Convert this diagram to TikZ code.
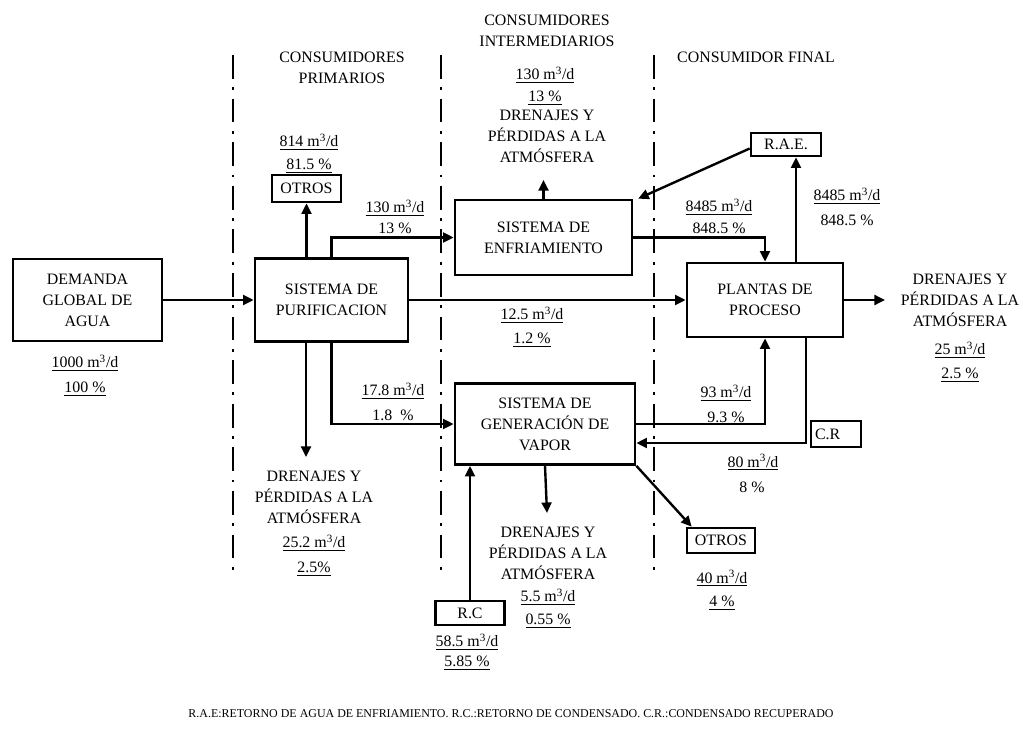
\documentclass[tikz,border=0pt]{standalone}
\usepackage{fontspec}
\setmainfont{Liberation Serif}
\usetikzlibrary{arrows.meta, positioning, calc}
\newcommand{\caudal}[1]{\underline{#1 m\textsuperscript{3}/d}}

\begin{document}
\begin{tikzpicture}[
  x=0.025cm, y=-0.025cm,
  font=\fontsize{11.3}{15}\selectfont,
  box/.style={rectangle, draw, line width=1.9pt, align=center, inner sep=1pt},
  tag/.style={align=center, inner sep=0pt},
  arr/.style={-{Triangle[length=7.5pt,width=7pt]}, line width=1.7pt},
  divline/.style={line width=2pt, dash pattern=on 17pt off 6pt on 2pt off 6pt},
]
  \useasboundingbox (0,0) rectangle (1023,729);

  % zonas
  \foreach \xd in {233,441,654}
    \draw[divline] (\xd,55) -- (\xd,578);
  \node[tag] (zprim) at (342,67.5) {CONSUMIDORES\\PRIMARIOS};
  \node[tag] (zint)  at (547,30.5) {CONSUMIDORES\\INTERMEDIARIOS};
  \node[tag] (zfin)  at (756,57)   {CONSUMIDOR FINAL};

  % bloques principales
  \node[box, minimum width=3.725cm, minimum height=2.05cm]  (dem) at (87.5,300) {DEMANDA\\GLOBAL DE\\AGUA};
  \node[box, minimum width=3.825cm, minimum height=2.075cm] (pur) at (331.5,300) {SISTEMA DE\\PURIFICACION};
  \node[box, minimum width=4.425cm, minimum height=1.875cm] (enf) at (543.5,237.5) {SISTEMA DE\\ENFRIAMIENTO};
  \node[box, minimum width=4.5cm, minimum height=2.025cm]   (gen) at (545,424) {SISTEMA DE\\GENERACIÓN DE\\VAPOR};
  \node[box, minimum width=3.9cm, minimum height=1.85cm]    (pla) at (765,300) {PLANTAS DE\\PROCESO};

  % bloques menores
  \node[box, minimum width=1.725cm, minimum height=0.675cm] (otr1) at (306.5,188.5) {OTROS};
  \node[box, minimum width=1.75cm, minimum height=0.575cm]  (rae)  at (786,144.5) {R.A.E.};
  \node[box, minimum width=1.25cm, minimum height=0.65cm, text width=1.05cm, align=left] (cr) at (836,434) {C.R};
  \node[box, minimum width=1.7cm, minimum height=0.625cm]   (otr2) at (721,540.5) {OTROS};
  \node[box, minimum width=1.725cm, minimum height=0.6cm]   (rc)   at (470,613) {R.C};

  % salidas
  \node[tag] (drint) at (547,136) {DRENAJES Y\\PÉRDIDAS A LA\\ATMÓSFERA};
  \node[tag] (drfin) at (960,300) {DRENAJES Y\\PÉRDIDAS A LA\\ATMÓSFERA};
  \node[tag] (drpri) at (314,497) {DRENAJES Y\\PÉRDIDAS A LA\\ATMÓSFERA};
  \node[tag] (drgen) at (548,553) {DRENAJES Y\\PÉRDIDAS A LA\\ATMÓSFERA};

  % caudales
  \node[tag] (qdem)  at (85,363)  {\caudal{1000}};
  \node[tag] (pdem)  at (85,389)  {\underline{100 \%}};
  \node[tag] (qotr1) at (309,142) {\caudal{814}};
  \node[tag] (potr1) at (309,166) {\underline{81.5 \%}};
  \node[tag] (qenf)  at (395,208) {\caudal{130}};
  \node[tag] (penf)  at (395,230) {\underline{13 \%}};
  \node[tag] (qdint) at (545,75)  {\caudal{130}};
  \node[tag] (pdint) at (545,98)  {\underline{13 \%}};
  \node[tag] (qpla1) at (719,207) {\caudal{8485}};
  \node[tag] (ppla1) at (719,230) {\underline{848.5 \%}};
  \node[tag] (qrae)  at (847,196) {\caudal{8485}};
  \node[tag] (prae)  at (847,220) {848.5 \%};
  \node[tag] (qdir)  at (532,315) {\caudal{12.5}};
  \node[tag] (pdir)  at (532,340) {\underline{1.2 \%}};
  \node[tag] (qdfin) at (960,350) {\caudal{25}};
  \node[tag] (pdfin) at (960,375) {\underline{2.5 \%}};
  \node[tag] (qgen)  at (393,391) {\caudal{17.8}};
  \node[tag] (pgen)  at (393,415) {1.8~~\%};
  \node[tag] (qdpri) at (314,543) {\caudal{25.2}};
  \node[tag] (pdpri) at (314,569) {\underline{2.5\%}};
  \node[tag] (qdgen) at (548,597) {\caudal{5.5}};
  \node[tag] (pdgen) at (548,621) {\underline{0.55 \%}};
  \node[tag] (qvap)  at (726,393) {\caudal{93}};
  \node[tag] (pvap)  at (726,417) {9.3 \%};
  \node[tag] (qcr)   at (753,462) {\caudal{80}};
  \node[tag] (pcr)   at (752,487) {8 \%};
  \node[tag] (qotr2) at (722,578) {\caudal{40}};
  \node[tag] (potr2) at (722,603) {\underline{4 \%}};
  \node[tag] (qrc)   at (467,642) {\caudal{58.5}};
  \node[tag] (prc)   at (467,663) {\underline{5.85 \%}};

  % leyenda
  \node[tag, font=\fontsize{8.5}{10}\selectfont] (ley) at (511,714)
    {R.A.E:RETORNO DE AGUA DE ENFRIAMIENTO. R.C.:RETORNO DE CONDENSADO. C.R.:CONDENSADO RECUPERADO};

  % puntos de paso
  \coordinate (enfup) at (543.5,180);
  \coordinate (plaout) at (885,300);
  \coordinate (purdn) at (306,457);
  \coordinate (gendn) at (547,513);
  \coordinate (raeb) at ([xshift=0.25cm]rae.south);
  \coordinate (crc) at (806,443);

  % conexiones
  \draw[arr] (dem) -- (pur);
  \draw[arr] (pur.north -| otr1.south) -- (otr1.south);
  \draw[arr] (pur.north) |- (enf.west);
  \draw[arr] (pur) -- (pla);
  \draw[arr] (pur.south -| purdn) -- (purdn);
  \draw[arr] (pur.south) |- (gen.west);
  \draw[arr] (enf.north) -- (enfup);
  \draw[arr] ([yshift=-0.1cm]rae.west) -- ([xshift=0.12cm]enf.north east);
  \draw[arr] (enf.east) -| (pla.north);
  \draw[arr] (pla.north -| raeb) -- (raeb);
  \draw[arr] (pla.east) -- (plaout);
  \draw[arr] (gen.east) -| (pla.south);
  \draw[arr] (pla.south -| crc) -- (crc) -- (crc -| gen.east);
  \draw[arr] (gen.south east) -- ([xshift=0.15cm]otr2.north west);
  \draw[arr] (gen.south) -- (gendn);
  \draw[arr] (rc.north) -- (rc.north |- gen.south);
\end{tikzpicture}
\end{document}
